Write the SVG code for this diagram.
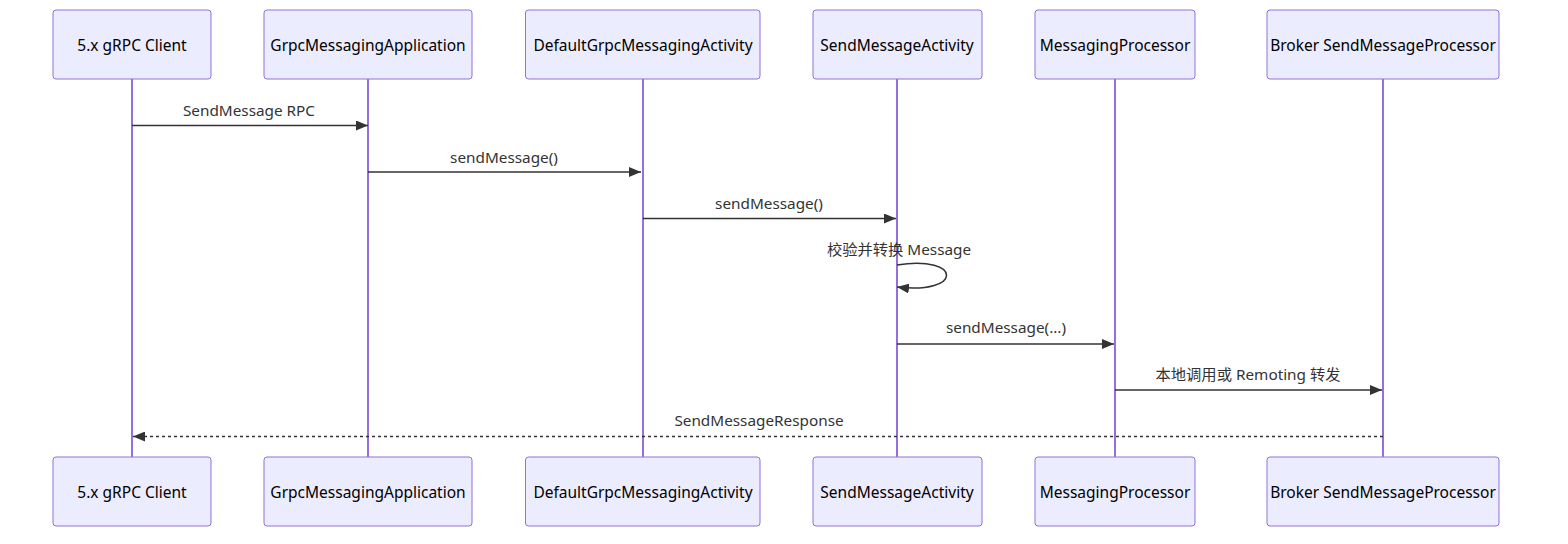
<svg xmlns="http://www.w3.org/2000/svg" width="1568" height="544" viewBox="0 0 1568 544">
<style>
.box{fill:#ECECFF;stroke:#9370DB;stroke-width:1;}
.life{stroke:#9370DB;stroke-width:2;}
.lbl{font-family:"Noto Sans","Noto Sans CJK SC",sans-serif;font-size:15.5px;fill:#000;text-anchor:middle;dominant-baseline:central;}
.msg{font-family:"Noto Sans","Noto Sans CJK SC",sans-serif;font-size:15.3px;fill:#333;text-anchor:middle;}
.ln{stroke:#333;stroke-width:1.5;fill:none;}
.dash{stroke-dasharray:3,3;}
</style>
<defs>
<marker id="arr" viewBox="0 0 12 10" refX="12" refY="5" markerWidth="12" markerHeight="10" markerUnits="userSpaceOnUse" orient="auto">
<path d="M0,0 L12,5 L0,10 z" fill="#333"/>
</marker>
</defs>
<rect width="1568" height="544" fill="#fff"/>
<g id="lifelines">
<line class="life" x1="132" y1="79" x2="132" y2="457"/>
<line class="life" x1="368" y1="79" x2="368" y2="457"/>
<line class="life" x1="643" y1="79" x2="643" y2="457"/>
<line class="life" x1="897" y1="79" x2="897" y2="457"/>
<line class="life" x1="1115" y1="79" x2="1115" y2="457"/>
<line class="life" x1="1383" y1="79" x2="1383" y2="457"/>
</g>
<g id="client"><rect class="box" x="53" y="10" width="158" height="69" rx="3"/><text class="lbl" x="132" y="45">5.x gRPC Client</text></g>
<g id="app"><rect class="box" x="264" y="10" width="208" height="69" rx="3"/><text class="lbl" x="368" y="45">GrpcMessagingApplication</text></g>
<g id="default"><rect class="box" x="525.5" y="10" width="234.5" height="69" rx="3"/><text class="lbl" x="643" y="45">DefaultGrpcMessagingActivity</text></g>
<g id="sendact"><rect class="box" x="813" y="10" width="169" height="69" rx="3"/><text class="lbl" x="897" y="45">SendMessageActivity</text></g>
<g id="proc"><rect class="box" x="1035" y="10" width="160" height="69" rx="3"/><text class="lbl" x="1115" y="45">MessagingProcessor</text></g>
<g id="broker"><rect class="box" x="1267" y="10" width="232" height="69" rx="3"/><text class="lbl" x="1383" y="45">Broker SendMessageProcessor</text></g>
<g id="client-b"><rect class="box" x="53" y="457" width="158" height="69" rx="3"/><text class="lbl" x="132" y="492">5.x gRPC Client</text></g>
<g id="app-b"><rect class="box" x="264" y="457" width="208" height="69" rx="3"/><text class="lbl" x="368" y="492">GrpcMessagingApplication</text></g>
<g id="default-b"><rect class="box" x="525.5" y="457" width="234.5" height="69" rx="3"/><text class="lbl" x="643" y="492">DefaultGrpcMessagingActivity</text></g>
<g id="sendact-b"><rect class="box" x="813" y="457" width="169" height="69" rx="3"/><text class="lbl" x="897" y="492">SendMessageActivity</text></g>
<g id="proc-b"><rect class="box" x="1035" y="457" width="160" height="69" rx="3"/><text class="lbl" x="1115" y="492">MessagingProcessor</text></g>
<g id="broker-b"><rect class="box" x="1267" y="457" width="232" height="69" rx="3"/><text class="lbl" x="1383" y="492">Broker SendMessageProcessor</text></g>
<g id="connectors">
<text class="msg" x="249" y="116">SendMessage RPC</text>
<line class="ln" x1="132" y1="125.5" x2="368" y2="125.5" marker-end="url(#arr)"/>
<text class="msg" x="504" y="163">sendMessage()</text>
<line class="ln" x1="368" y1="172" x2="641" y2="172" marker-end="url(#arr)"/>
<text class="msg" x="769" y="209">sendMessage()</text>
<line class="ln" x1="643" y1="218.5" x2="896" y2="218.5" marker-end="url(#arr)"/>
<text class="msg" x="899" y="255">校验并转换 Message</text>
<path class="ln" d="M897,265 C963,255 963,295 897,287" marker-end="url(#arr)"/>
<text class="msg" x="1006" y="333">sendMessage(...)</text>
<line class="ln" x1="897" y1="344" x2="1114" y2="344" marker-end="url(#arr)"/>
<text class="msg" x="1248" y="380">本地调用或 Remoting 转发</text>
<line class="ln" x1="1115" y1="390" x2="1382" y2="390" marker-end="url(#arr)"/>
<text class="msg" x="759" y="426">SendMessageResponse</text>
<line class="ln dash" x1="1383" y1="436.5" x2="133" y2="436.5" marker-end="url(#arr)"/>
</g>
</svg>
